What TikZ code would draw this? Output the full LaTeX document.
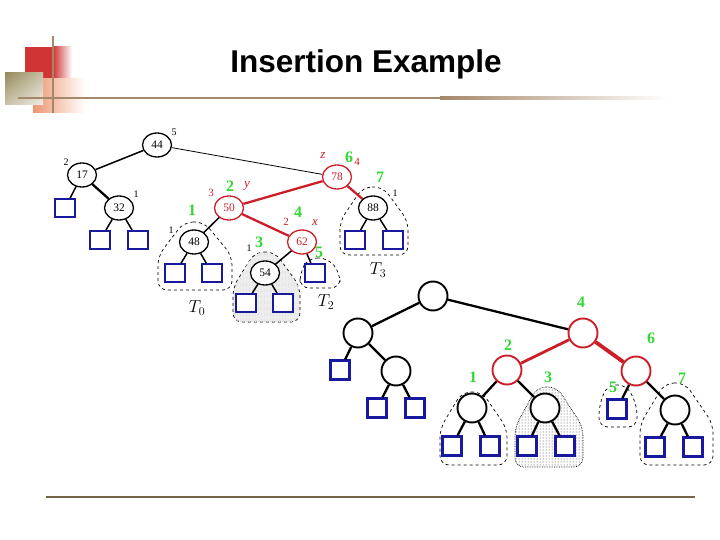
\documentclass[tikz,border=0pt]{standalone}
\usepackage{fontspec}
\setmainfont{Liberation Serif}
\newfontfamily\titlefont{Liberation Sans}
\usepackage{tikz}
\usetikzlibrary{shapes.geometric,patterns,shadings,calc}

\definecolor{treered}{RGB}{205,30,40}
\definecolor{balgreen}{RGB}{50,215,50}
\definecolor{leafblue}{RGB}{25,25,160}
\definecolor{decored}{RGB}{208,52,52}
\definecolor{decoolive}{RGB}{150,138,90}
\definecolor{decopeach}{RGB}{236,150,112}
\definecolor{decoline}{RGB}{165,135,105}
\definecolor{footline}{RGB}{118,100,70}

% tent-shaped outline round a subtree: [opts]{cx}{top}{left}{right}{bottom}
\newcommand{\tblob}[6][]{%
	\draw[blob, #1] ({#2-10},#3) -- ({#2+10},#3) -- (#5,{#3+0.5*(#6-#3)})
	-- (#5,#6) -- (#4,#6) -- (#4,{#3+0.5*(#6-#3)}) -- cycle;}

\begin{document}
\begin{tikzpicture}[
		x=1pt, y=-1pt,
		key/.style={ellipse, draw, fill=white, line width=1.3pt, inner sep=0pt,
				minimum width=29pt, minimum height=24pt, font=\fontsize{11.5}{11.5}\selectfont},
		rkey/.style={key, draw=treered, text=treered},
		ext/.style={rectangle, draw=leafblue, fill=white, line width=1.9pt, inner sep=0pt,
				minimum width=20pt, minimum height=18pt},
		big/.style={circle, draw, fill=white, line width=1.9pt, minimum size=29pt, inner sep=0pt},
		rbig/.style={big, draw=treered},
		bigext/.style={ext, line width=2.3pt, minimum width=19pt, minimum height=19pt},
		ht/.style={inner sep=0pt, font=\fontsize{10}{10}\selectfont},
		rht/.style={inner sep=0pt, text=treered, font=\fontsize{11}{11}\selectfont},
		rvar/.style={inner sep=0pt, text=treered, font=\itshape\fontsize{13}{13}\selectfont},
		bal/.style={inner sep=0pt, text=balgreen, font=\bfseries\fontsize{16}{16}\selectfont},
		sub/.style={inner sep=0pt, font=\fontsize{17}{17}\selectfont},
		edge/.style={line width=1.5pt},
		redge/.style={draw=treered, line width=2.3pt},
		bedge/.style={line width=2.3pt},
		blob/.style={dashed, line width=0.7pt, rounded corners=9pt}
		]
		\useasboundingbox (0,0) rectangle (720,540);
		% slide decoration
		\fill[decored] (25,47) rectangle (53,78);
		\shade[left color=decored, right color=white] (53,47) rectangle (72,78);
		\shade[left color=decopeach, right color=white] (33,79) rectangle (85,113);
		\shade[upper left=decoolive, upper right=decoolive!55, lower left=decoolive!50,
			lower right=decoolive!15] (5,73) rectangle (43,105);
		\draw[decoline, line width=2.5pt] (53,36) -- (53,113);
		\fill[decoline] (18,96.8) rectangle (440,99.2);
		\shade[left color=decoline, right color=white] (440,96.8) rectangle (668,99.2);
		\node[font=\titlefont\bfseries\fontsize{31.5}{31.5}\selectfont, anchor=base]
		(title) at (366,73) {Insertion Example};
		\draw[footline, line width=2.2pt] (46,497) -- (695,497);

		% subtree outlines, left tree
		\tblob{194}{222}{158}{232}{290}
		\tblob[fill=gray!14, postaction={pattern=vertical lines, pattern color=gray!22}]
		{265}{252}{233}{300}{322}
		\tblob{318}{258}{300}{340}{288}
		\tblob{373}{187}{340}{408}{255}
		% subtree outlines, right tree
		\tblob{472}{392}{440}{507}{465}
		\tblob[densely dotted, pattern=dots, pattern color=black!80]{547}{387}{515}{583}{467}
		\tblob{617}{385}{599}{637}{427}
		\tblob{675}{383}{640}{713}{465}

		% left tree: before restructure
		\node[key] (k44) at (157,145) {44};
		\node[key] (k17) at (82,175) {17};
		\node[key] (k32) at (119,208) {32};
		\node[rkey] (k78) at (337,177) {78};
		\node[rkey] (k50) at (229,208) {50};
		\node[key] (k48) at (194,242) {48};
		\node[rkey] (k62) at (302,242) {62};
		\node[key] (k54) at (265,273) {54};
		\node[key] (k88) at (373,208) {88};
		\node[ext] (e17) at (65,208) {};
		\node[ext] (e32a) at (100,240) {};
		\node[ext] (e32b) at (138,240) {};
		\node[ext] (e48a) at (175,273) {};
		\node[ext] (e48b) at (212,273) {};
		\node[ext] (e54a) at (246,303) {};
		\node[ext] (e54b) at (283,303) {};
		\node[ext] (e62) at (315,273) {};
		\node[ext] (e88a) at (355,240) {};
		\node[ext] (e88b) at (393,240) {};
		\draw[edge] (k44) -- (k17);
		\draw[line width=0.8pt] (k44) -- (k78);
		\draw[edge] (k17) -- (e17);
		\draw[line width=2.3pt] (k17) -- (k32);
		\draw[edge] (k32) -- (e32a);
		\draw[edge] (k32) -- (e32b);
		\draw[redge] (k78) -- (k50);
		\draw[redge] (k78) -- (k88);
		\draw[redge] (k50) -- (k62);
		\draw[edge] (k50) -- (k48);
		\draw[edge] (k48) -- (e48a);
		\draw[edge] (k48) -- (e48b);
		\draw[edge] (k62) -- (k54);
		\draw[edge] (k62) -- (e62);
		\draw[edge] (k54) -- (e54a);
		\draw[edge] (k54) -- (e54b);
		\draw[edge] (k88) -- (e88a);
		\draw[edge] (k88) -- (e88b);
		% heights, names and order numbers
		\node[ht] (h44) at (174,132) {5};
		\node[ht] (h17) at (66,162) {2};
		\node[ht] (h32) at (136,194) {1};
		\node[ht] (h48) at (171,230) {1};
		\node[ht] (h54) at (249,248) {1};
		\node[ht] (h88) at (395,193) {1};
		\node[rht] (h50) at (211,193) {3};
		\node[rht] (h62) at (286,222) {2};
		\node[rht] (h78) at (357,162) {4};
		\node[rvar] (vy) at (247,186) {y};
		\node[rvar] (vx) at (315,223) {x};
		\node[rvar] (vz) at (323,156) {z};
		\node[bal] (o1) at (192,210) {1};
		\node[bal] (o2) at (230,186) {2};
		\node[bal] (o3) at (259,242) {3};
		\node[bal] (o4) at (298,212) {4};
		\node[bal] (o5) at (319,252) {5};
		\node[bal] (o6) at (349,157) {6};
		\node[bal] (o7) at (380,177) {7};
		\node[sub] (t0) at (197,308) {$T_0$};
		\node[sub] (t2) at (326,302) {$T_2$};
		\node[sub] (t3) at (378,270) {$T_3$};

		% right tree: after restructure
		\node[big] (r0) at (433,296) {};
		\node[big] (r1) at (358,333) {};
		\node[big] (r2) at (396,371) {};
		\node[rbig] (b4) at (583,333) {};
		\node[rbig] (b2) at (507,370) {};
		\node[rbig] (b6) at (636,371) {};
		\node[big] (c1) at (472,408) {};
		\node[big] (c3) at (545,408) {};
		\node[big] (c7) at (675,410) {};
		\node[bigext] (q1) at (340,370) {};
		\node[bigext] (q2a) at (377,408) {};
		\node[bigext] (q2b) at (415,408) {};
		\node[bigext] (q1a) at (452,446) {};
		\node[bigext] (q1b) at (490,446) {};
		\node[bigext] (q3a) at (527,446) {};
		\node[bigext] (q3b) at (565,446) {};
		\node[bigext] (q5) at (617,409) {};
		\node[bigext] (q7a) at (655,447) {};
		\node[bigext] (q7b) at (693,447) {};
		\draw[bedge] (r0) -- (r1);
		\draw[bedge] (r0) -- (b4);
		\draw[bedge] (r1) -- (q1);
		\draw[bedge] (r1) -- (r2);
		\draw[bedge] (r2) -- (q2a);
		\draw[bedge] (r2) -- (q2b);
		\draw[redge, line width=2.8pt] (b4) -- (b2);
		\draw[redge, line width=3.8pt] (b4) -- (b6);
		\draw[bedge] (b2) -- (c1);
		\draw[bedge] (b2) -- (c3);
		\draw[bedge] (c1) -- (q1a);
		\draw[bedge] (c1) -- (q1b);
		\draw[bedge] (c3) -- (q3a);
		\draw[bedge] (c3) -- (q3b);
		\draw[bedge] (b6) -- (q5);
		\draw[bedge] (b6) -- (c7);
		\draw[bedge] (c7) -- (q7a);
		\draw[bedge] (c7) -- (q7b);
		\node[bal] (p4) at (581,302) {4};
		\node[bal] (p2) at (508,345) {2};
		\node[bal] (p6) at (651,338) {6};
		\node[bal] (p1) at (473,377) {1};
		\node[bal] (p3) at (548,377) {3};
		\node[bal] (p5) at (613,387) {5};
		\node[bal] (p7) at (682,378) {7};
	\end{tikzpicture}
\end{document}
